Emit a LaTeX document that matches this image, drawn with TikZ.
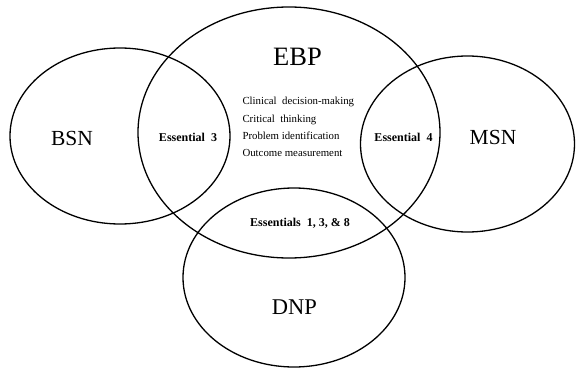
\documentclass[tikz,border=0pt]{standalone}
\usepackage{fontspec}
\setmainfont{Liberation Serif}
\begin{document}
\begin{tikzpicture}[x=1pt,y=-1pt,
  ring/.style={draw=black,line width=1.3pt},
  big/.style={font=\fontsize{21.5}{24}\selectfont},
  ess/.style={font=\fontsize{12}{14}\selectfont\bfseries},
  lst/.style={font=\fontsize{10.8}{17.3}\selectfont,align=left}]
\useasboundingbox[fill=white] (0,0) rectangle (576,369);
\draw[ring] (120,136) ellipse [x radius=110, y radius=88];
\draw[ring] (289,132.5) ellipse [x radius=151, y radius=125.5];
\draw[ring] (467.5,144) ellipse [x radius=107, y radius=88];
\draw[ring] (294,277.5) ellipse [x radius=111, y radius=89.5];
\node[big] (bsn) at (72,138) {BSN};
\node[big] (msn) at (493,137) {MSN};
\node[font=\fontsize{26.5}{30}\selectfont] (ebp) at (297.5,57) {EBP};
\node[big,font=\fontsize{22.5}{26}\selectfont] (dnp) at (294.5,307) {DNP};
\node[ess] (e3) at (188,137) {Essential\ \ 3};
\node[ess] (e4) at (403.5,137) {Essential\ \ 4};
\node[ess] (e138) at (300,223.5) {Essentials\ \ 1, 3, \& 8};
\node[lst,anchor=west] (list) at (239,127) {Clinical\ \ decision-making\\Critical\ \ thinking\\Problem identification\\Outcome measurement};
\end{tikzpicture}
\end{document}
